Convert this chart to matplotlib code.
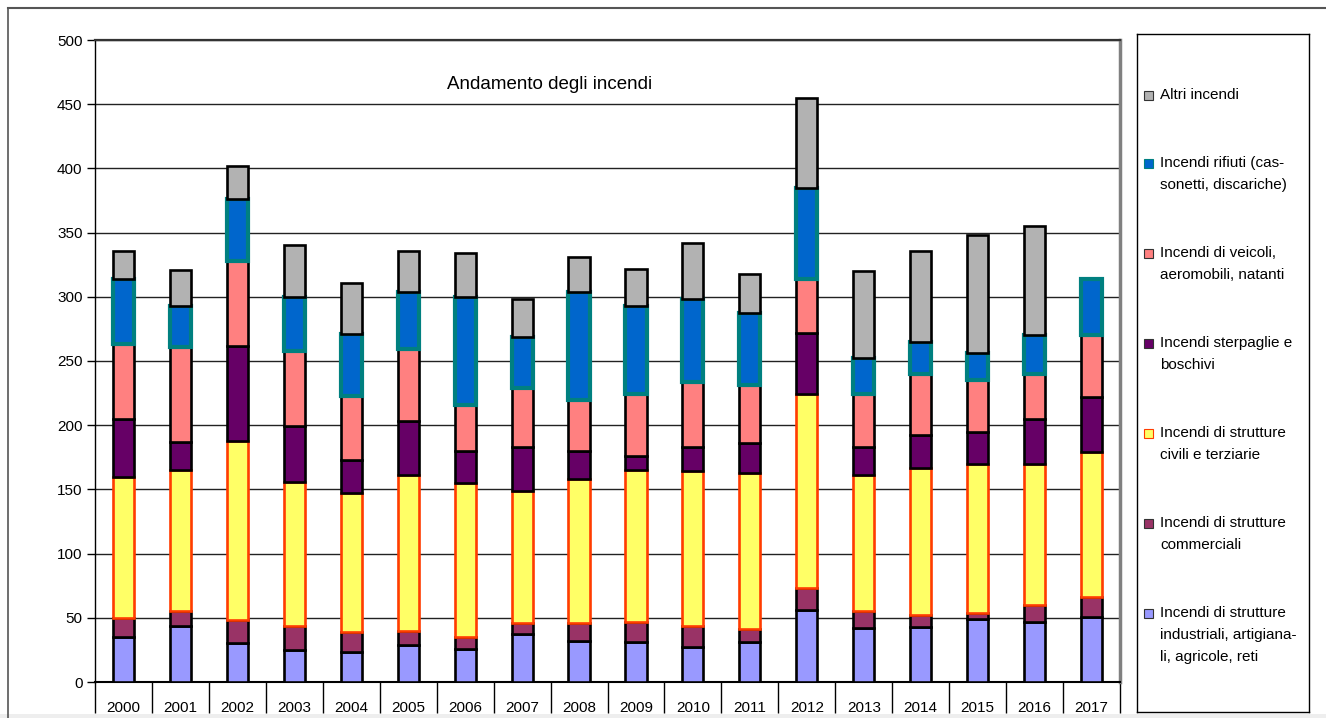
import numpy as np
import matplotlib
matplotlib.use("Agg")
import matplotlib.pyplot as plt
from matplotlib.patches import Rectangle
from matplotlib.lines import Line2D

plt.rcParams['font.family'] = ['Liberation Sans', 'DejaVu Sans']

anni = ['2000', '2001', '2002', '2003', '2004', '2005', '2006', '2007', '2008',
        '2009', '2010', '2011', '2012', '2013', '2014', '2015', '2016', '2017']

# serie (dal basso verso l'alto)
industriali = [35, 44, 30, 25, 23, 29, 26, 37, 32, 31, 27, 31, 56, 42, 43, 49, 47, 51]
commerciali = [15, 11, 18, 19, 16, 11, 9, 9, 14, 16, 17, 10, 17, 13, 9, 5, 13, 15]
civili = [110, 110, 140, 112, 108, 121, 120, 103, 112, 118, 120, 122, 151, 106, 115, 116, 110, 113]
sterpaglie = [45, 22, 74, 43, 26, 42, 25, 34, 22, 11, 19, 23, 48, 22, 25, 25, 35, 43]
veicoli = [58, 74, 66, 59, 50, 56, 36, 46, 40, 48, 51, 45, 42, 41, 48, 40, 35, 48]
rifiuti = [51, 32, 48, 42, 48, 45, 84, 40, 84, 69, 64, 56, 71, 28, 25, 21, 30, 44]
altri = [22, 28, 26, 40, 40, 32, 34, 29, 27, 29, 44, 31, 70, 68, 71, 92, 85, 0]

etichette = ["Incendi di strutture\nindustriali, artigiana-\nli, agricole, reti",
             "Incendi di strutture\ncommerciali",
             "Incendi di strutture\ncivili e terziarie",
             "Incendi sterpaglie e\nboschivi",
             "Incendi di veicoli,\naeromobili, natanti",
             "Incendi rifiuti (cas-\nsonetti, discariche)",
             "Altri incendi"]
colori = ['#9999FF', '#993366', '#FFFF66', '#660066', '#FF8080', '#0066CC', '#B2B2B2']
bordi = ['black', 'black', '#FF3C00', 'black', 'black', '#008080', 'black']
spessori = [1.9, 1.9, 1.9, 1.9, 1.9, 3.0, 1.9]

serie = [industriali, commerciali, civili, sterpaglie, veicoli, rifiuti, altri]

W, H = 1326, 718
fig = plt.figure(figsize=(W / 100, H / 100), dpi=100)

# cornice esterna e striscia grigia in basso
fig.add_artist(Line2D([8 / W, 8 / W], [0, 1 - 8 / H], color='#555555', lw=1.2))
fig.add_artist(Line2D([8 / W, 1], [1 - 8 / H, 1 - 8 / H], color='#555555', lw=1.5))
fig.add_artist(Rectangle((0, 0), 1, 4 / H, facecolor='#EEEEEE', edgecolor='none'))

ax = fig.add_axes([95 / W, 1 - 682 / H, (1120 - 95) / W, (682 - 40) / H])

x = np.arange(len(anni))
base = np.zeros(len(anni))
for vals, col, ed, lw in zip(serie, colori, bordi, spessori):
    v = np.array(vals, dtype=float)
    mask = v > 0
    ax.bar(x[mask], v[mask], 0.37, bottom=base[mask], color=col,
           edgecolor=ed, linewidth=lw, zorder=3)
    base += v

ax.set_xlim(-0.5, len(anni) - 0.5)
ax.set_ylim(0, 500)
ax.set_yticks(np.arange(0, 501, 50))
ax.yaxis.grid(True, color='#222222', linewidth=1.0, zorder=0)
ax.tick_params(axis='y', length=6, width=1, labelsize=11, pad=3)

# tacche tra le categorie, etichette al centro
ax.set_xticks(np.arange(len(anni) + 1) - 0.5)
ax.set_xticklabels([])
ax.tick_params(axis='x', which='major', length=22, width=1, direction='out')
ax.set_xticks(x, minor=True)
ax.set_xticklabels(anni, minor=True, fontsize=11)
ax.tick_params(axis='x', which='minor', length=0, pad=14)

ax.spines['top'].set_color('#333333')
ax.spines['top'].set_linewidth(1.6)
ax.spines['right'].set_color('#808080')
ax.spines['right'].set_linewidth(2.5)
ax.spines['left'].set_linewidth(1.0)
ax.spines['bottom'].set_linewidth(1.5)

ax.text(0.443, 0.93, "Andamento degli incendi", transform=ax.transAxes,
        ha='center', va='center', fontsize=13.5)

# legenda
lx0, lx1, ly0, ly1 = 1137, 1309, 34, 712
axl = fig.add_axes([lx0 / W, 1 - ly1 / H, (lx1 - lx0) / W, (ly1 - ly0) / H])
axl.set_xlim(lx0, lx1)
axl.set_ylim(ly1, ly0)
axl.set_xticks([])
axl.set_yticks([])
for s in axl.spines.values():
    s.set_linewidth(1.0)
    s.set_color('black')

riga = 22
salto = 68
y = 95
for lab, col, ed in list(zip(etichette, colori, bordi))[::-1]:
    axl.add_patch(Rectangle((1144, y - 4.5), 9, 9, facecolor=col,
                            edgecolor=ed if ed != 'black' else '#333333', linewidth=0.8))
    for k, line in enumerate(lab.split('\n')):
        axl.text(1160, y + k * riga, line, va='center', ha='left', fontsize=11)
    y += (lab.count('\n')) * riga + salto

fig.savefig('out.png', dpi=100)
